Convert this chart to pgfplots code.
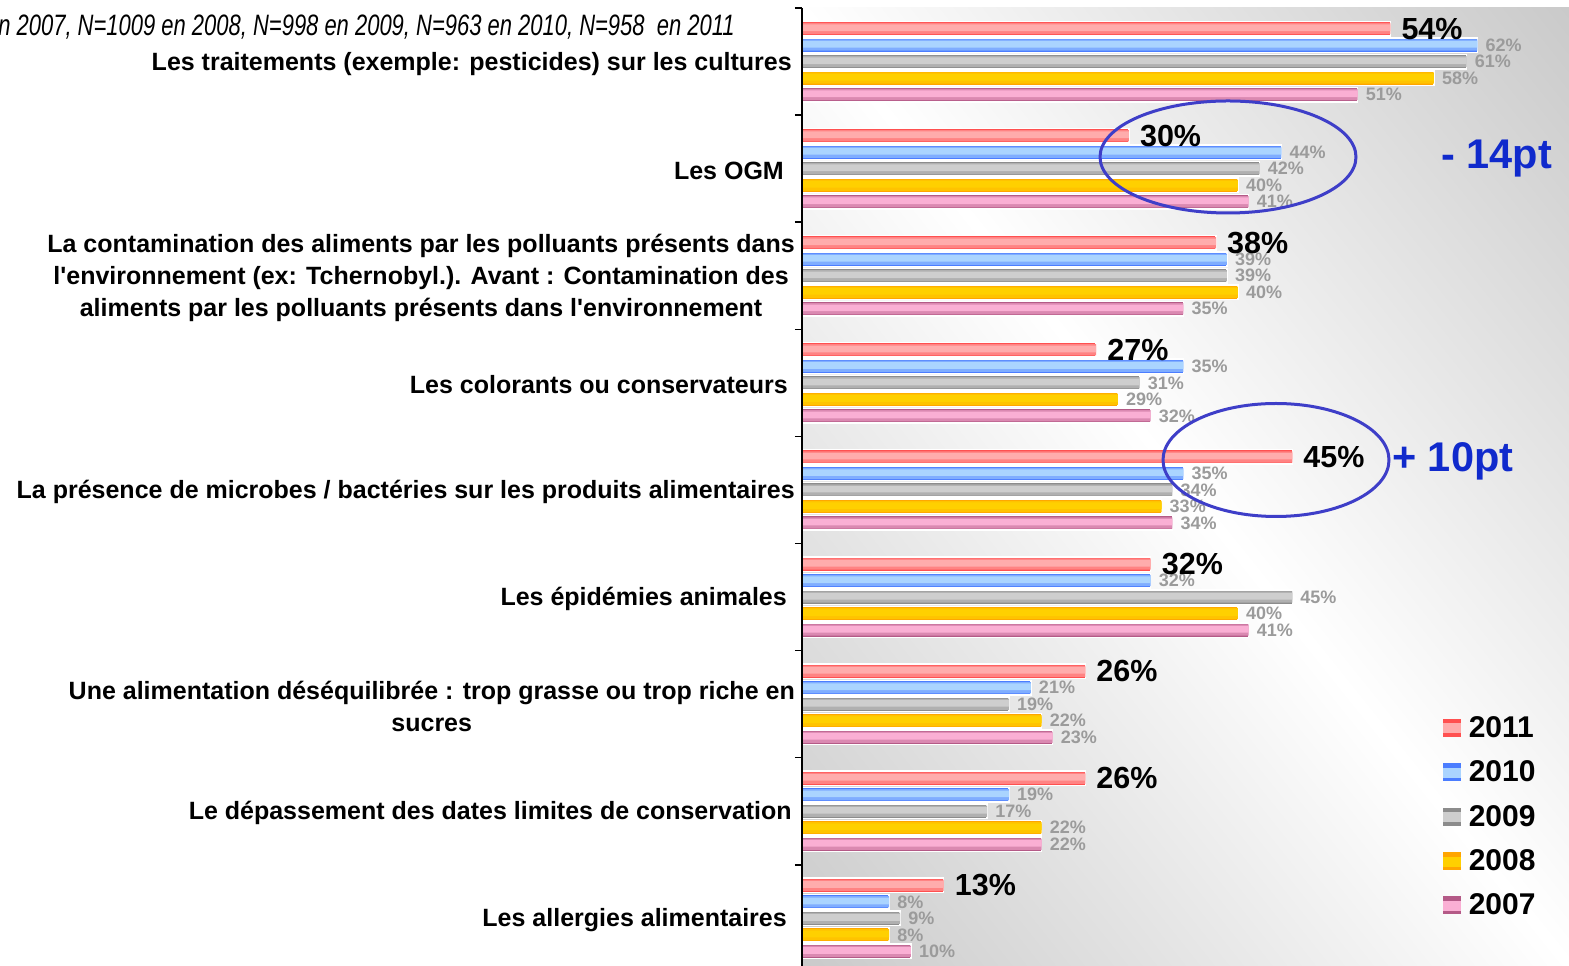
\documentclass[border=0pt]{standalone}
\usepackage{pgfplots}
\pgfplotsset{compat=1.18}
\usepackage{pgfplotstable}
\usepackage{graphicx}
\usepackage{fontspec}
\setmainfont{Liberation Sans}[Ligatures=TeXOff]

\definecolor{rD}{RGB}{255,80,80}
\definecolor{rL}{RGB}{255,172,172}
\definecolor{bD}{RGB}{75,125,255}
\definecolor{bL}{RGB}{170,212,255}
\definecolor{gD}{RGB}{140,140,140}
\definecolor{gL}{RGB}{206,206,206}
\definecolor{yD}{RGB}{255,165,0}
\definecolor{yL}{RGB}{255,208,0}
\definecolor{pD}{RGB}{180,90,135}
\definecolor{pL}{RGB}{250,175,212}
\definecolor{bgG}{RGB}{200,200,200}
\definecolor{valG}{RGB}{155,155,155}
\definecolor{ellC}{RGB}{62,62,200}
\definecolor{annC}{RGB}{16,42,204}

\pgfplotstableread{
idx v2011 v2010 v2009 v2008 v2007
0 54 62 61 58 51
1 30 44 42 40 41
2 38 39 39 40 35
3 27 35 31 29 32
4 45 35 34 33 34
5 32 32 45 40 41
6 26 21 19 22 23
7 26 19 17 22 22
8 13 8 9 8 10
}\data

\pgfplotsset{
  bbase/.style={xbar, bar shift=0pt, bar width=0.135, draw=white, line width=1.5pt, forget plot},
  bmid/.style={xbar, bar shift=0pt, bar width=0.105, draw=none, forget plot},
  binn/.style={xbar, bar shift=0pt, bar width=0.062, draw=none, forget plot},
  blab/.style={xbar, bar shift=0pt, bar width=0.135, draw=none, fill=none, forget plot,
    point meta=x, nodes near coords={\pgfmathprintnumber{\pgfplotspointmeta}\%},
    nodes near coords align={horizontal}},
  glab/.style={blab, every node near coord/.append style={font=\fontsize{18}{18}\selectfont\bfseries,
    text=valG, anchor=west, inner sep=0pt, xshift=8pt}},
  klab/.style={blab, every node near coord/.append style={font=\fontsize{30.5}{31}\selectfont\bfseries,
    text=black, anchor=west, inner sep=0pt, xshift=11pt}},
}

\begin{document}
\begin{tikzpicture}
\useasboundingbox (0pt,0pt) rectangle (1569pt,966pt);
% background gradient of the plot area
\begin{scope}
\clip (802pt,0pt) rectangle (1569pt,958pt);
\begin{scope}[transform canvas={shift={(1185.5pt,479pt)}, rotate=-51.3}]
  \shade[top color=bgG, bottom color=bgG, middle color=white] (-1000pt,-620pt) rectangle (1000pt,620pt);
\end{scope}
\end{scope}
\begin{axis}[
  at={(802pt,0pt)}, anchor=south west,
  width=767pt, height=958pt, scale only axis,
  /pgf/number format/assume math mode=true,
  xmin=0, xmax=70.4,
  y dir=reverse, ymin=-0.5, ymax=8.445,
  axis x line=none, axis y line*=left,
  axis line style={black, line width=1.5pt},
  xtick=\empty,
  ytick={0,...,8},
  yticklabels={
    {Les traitements (exemple: pesticides) sur les cultures\hspace*{3pt}},
    {Les OGM\hspace*{11pt}},
    {La contamination des aliments par les polluants présents dans\\l'environnement (ex: Tchernobyl.). Avant : Contamination des\\aliments par les polluants présents dans l'environnement},
    {Les colorants ou conservateurs\hspace*{7pt}},
    {La présence de microbes / bactéries sur les produits alimentaires},
    {Les épidémies animales\hspace*{8pt}},
    {Une alimentation déséquilibrée : trop grasse ou trop riche en\\sucres},
    {Le dépassement des dates limites de conservation\hspace*{3pt}},
    {Les allergies alimentaires\hspace*{8pt}}},
  major tick length=0pt,
  tick align=outside,
  extra y ticks={-0.5,0.5,1.5,2.5,3.5,4.5,5.5,6.5,7.5},
  extra y tick labels={},
  extra y tick style={major tick length=7pt, tick style={black, line width=1.5pt}},
  yticklabel style={font=\fontsize{25}{32}\selectfont\bfseries, align=center, inner sep=0pt, xshift=-7pt, yshift=-2pt},
  clip=false, axis on top,
  legend style={at={(0.836,0.261)}, anchor=north west, draw=none, fill=none, inner sep=0pt,
    row sep=22pt, column sep=8pt, nodes={inner sep=0pt},
    font=\fontsize{30}{30}\selectfont\bfseries},
  legend cell align=left,
]
\addlegendimage{legend image code/.code={\fill[rD] (0pt,-8.5pt) rectangle (17pt,8.5pt); \fill[rL] (0pt,-5pt) rectangle (17pt,4pt);}}
\addlegendentry{2011}
\addlegendimage{legend image code/.code={\fill[bD] (0pt,-8.5pt) rectangle (17pt,8.5pt); \fill[bL] (0pt,-5pt) rectangle (17pt,4pt);}}
\addlegendentry{2010}
\addlegendimage{legend image code/.code={\fill[gD] (0pt,-8.5pt) rectangle (17pt,8.5pt); \fill[gL] (0pt,-5pt) rectangle (17pt,4pt);}}
\addlegendentry{2009}
\addlegendimage{legend image code/.code={\fill[yD] (0pt,-8.5pt) rectangle (17pt,8.5pt); \fill[yL] (0pt,-5pt) rectangle (17pt,4pt);}}
\addlegendentry{2008}
\addlegendimage{legend image code/.code={\fill[pD] (0pt,-8.5pt) rectangle (17pt,8.5pt); \fill[pL] (0pt,-5pt) rectangle (17pt,4pt);}}
\addlegendentry{2007}

% base bars
\addplot[bbase, fill=rD] table[x=v2011, y expr=\thisrow{idx}-0.308] {\data};
\addplot[bbase, fill=bD] table[x=v2010, y expr=\thisrow{idx}-0.154] {\data};
\addplot[bbase, fill=gD] table[x=v2009, y expr=\thisrow{idx}] {\data};
\addplot[bbase, fill=yD] table[x=v2008, y expr=\thisrow{idx}+0.154] {\data};
\addplot[bbase, fill=pD] table[x=v2007, y expr=\thisrow{idx}+0.308] {\data};
% mid layer
\addplot[bmid, fill=rD!45!rL] table[x=v2011, y expr=\thisrow{idx}-0.308] {\data};
\addplot[bmid, fill=bD!45!bL] table[x=v2010, y expr=\thisrow{idx}-0.154] {\data};
\addplot[bmid, fill=gD!45!gL] table[x=v2009, y expr=\thisrow{idx}] {\data};
\addplot[bmid, fill=yD!30!yL] table[x=v2008, y expr=\thisrow{idx}+0.154] {\data};
\addplot[bmid, fill=pD!45!pL] table[x=v2007, y expr=\thisrow{idx}+0.308] {\data};
% inner highlight
\addplot[binn, fill=rL] table[x=v2011, y expr=\thisrow{idx}-0.316] {\data};
\addplot[binn, fill=bL] table[x=v2010, y expr=\thisrow{idx}-0.162] {\data};
\addplot[binn, fill=gL] table[x=v2009, y expr=\thisrow{idx}-0.008] {\data};
\addplot[binn, fill=yL] table[x=v2008, y expr=\thisrow{idx}+0.146] {\data};
\addplot[binn, fill=pL] table[x=v2007, y expr=\thisrow{idx}+0.300] {\data};
% value labels
\addplot[glab] table[x=v2007, y expr=\thisrow{idx}+0.308] {\data};
\addplot[glab] table[x=v2008, y expr=\thisrow{idx}+0.154] {\data};
\addplot[glab] table[x=v2009, y expr=\thisrow{idx}] {\data};
\addplot[glab] table[x=v2010, y expr=\thisrow{idx}-0.154] {\data};
\addplot[klab] table[x=v2011, y expr=\thisrow{idx}-0.308] {\data};
\end{axis}

\draw[ellC, line width=3pt] (1228pt,809pt) ellipse [x radius=128pt, y radius=56pt];
\draw[ellC, line width=3pt] (1276pt,506pt) ellipse [x radius=113pt, y radius=56.5pt];
\node[anchor=base west, inner sep=0pt, text=annC, font=\fontsize{41.5}{42}\selectfont\bfseries] at (1441pt,797pt) {- 14pt};
\node[anchor=base west, inner sep=0pt, text=annC, font=\fontsize{41.5}{42}\selectfont\bfseries] at (1392pt,494pt) {+ 10pt};
\node[anchor=base east, inner sep=0pt, font=\fontsize{29.5}{30}\selectfont\itshape] at (735pt,930pt)
  {\scalebox{0.745}[1]{en 2007, N=1009 en 2008, N=998 en 2009, N=963 en 2010, N=958\ \ en 2011}};
\end{tikzpicture}
\end{document}
